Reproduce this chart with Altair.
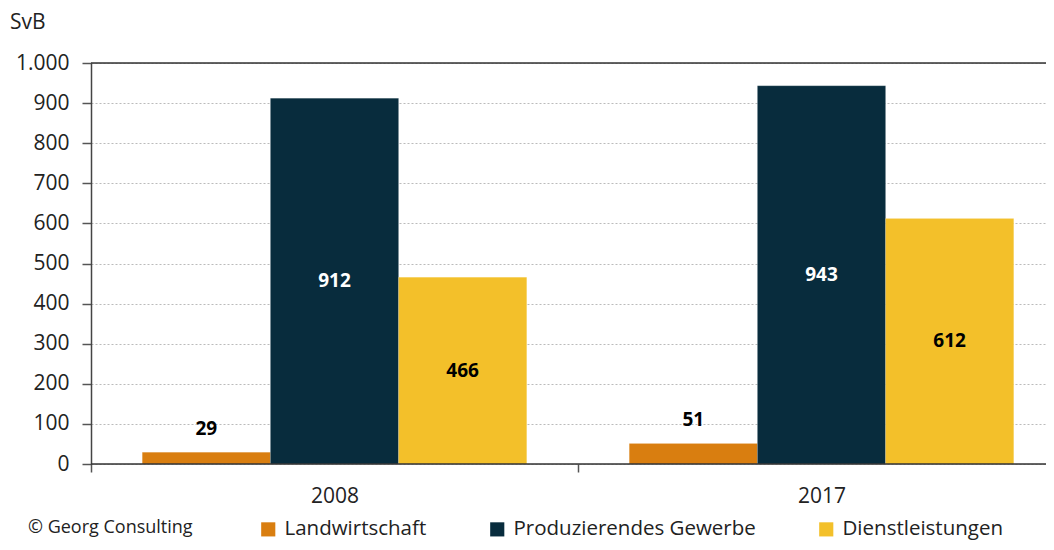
import altair as alt
import pandas as pd

years = ["2008", "2008", "2008", "2017", "2017", "2017"]
sectors = ["Landwirtschaft", "Produzierendes Gewerbe", "Dienstleistungen"] * 2
values = [29, 912, 466, 51, 943, 612]
sector_order = ["Landwirtschaft", "Produzierendes Gewerbe", "Dienstleistungen"]
sector_colors = ["#D97E10", "#082C3D", "#F3C02A"]
label_colors = ["black", "white", "black"]
y_ticks = [0, 100, 200, 300, 400, 500, 600, 700, 800, 900, 1000]

df = pd.DataFrame({"Jahr": years, "Sektor": sectors, "Wert": values})
df["lblcol"] = [label_colors[sector_order.index(s)] for s in df["Sektor"]]
df["mid"] = [v + 58 if s == "Landwirtschaft" else v / 2 for s, v in zip(df["Sektor"], df["Wert"])]

FONT = "Open Sans"

x_enc = alt.X("Jahr:N", title=None,
              scale=alt.Scale(range=[0, 974], paddingInner=0, paddingOuter=0),
              axis=alt.Axis(labelAngle=0, domain=False, ticks=True, tickBand="extent",
                            tickSize=8, tickColor="#555555", tickWidth=1.5,
                            labelFontSize=21, labelColor="#222222", labelFont=FONT,
                            labelPadding=13, grid=False))
xo_enc = alt.XOffset("Sektor:N", sort=sector_order,
                     scale=alt.Scale(paddingInner=0, paddingOuter=0.4))

bars = alt.Chart(df).mark_bar(stroke="white", strokeWidth=0.3, strokeOpacity=0.4).encode(
    x=x_enc,
    xOffset=xo_enc,
    y=alt.Y("Wert:Q", title=None,
            scale=alt.Scale(domain=[0, 1000], nice=False),
            axis=alt.Axis(values=y_ticks, labelExpr="datum.value == 1000 ? '1.000' : datum.label",
                          labelFontSize=21, labelColor="#222222", labelFont=FONT,
                          labelPadding=13, tickSize=9, tickColor="#555555", tickWidth=1.5,
                          domainColor="#444444", domainWidth=1.5,
                          grid=True, gridColor="#BBBBBB", gridDash=[2, 2], gridWidth=1)),
    color=alt.Color("Sektor:N", sort=sector_order,
                    scale=alt.Scale(domain=sector_order, range=sector_colors),
                    legend=alt.Legend(title=None, orient="none", legendX=167, legendY=456,
                                      direction="horizontal", symbolType="square",
                                      symbolSize=200, symbolStrokeWidth=0, padding=0,
                                      labelFontSize=20.5, labelFont=FONT, labelColor="#222222",
                                      columnPadding=60, labelOffset=6, labelLimit=400)),
)

labels = alt.Chart(df).mark_text(fontSize=19, fontWeight="bold", font=FONT).encode(
    x=alt.X("Jahr:N"),
    xOffset=alt.XOffset("Sektor:N", sort=sector_order),
    y=alt.Y("mid:Q"),
    color=alt.Color("lblcol:N", scale=None, legend=None),
    text=alt.Text("Wert:Q"),
)

base_rules = pd.DataFrame({"yv": [0, 1000]})
rules = alt.Chart(base_rules).mark_rule(color="#333333", strokeWidth=1.5).encode(
    y=alt.Y("yv:Q")
)

svb = alt.Chart(pd.DataFrame({"t": ["SvB"]})).mark_text(
    align="left", baseline="middle", fontSize=21, font=FONT, color="#222222"
).encode(x=alt.value(-81), y=alt.value(-40), text="t:N")

copy = alt.Chart(pd.DataFrame({"t": ["© Georg Consulting"]})).mark_text(
    align="left", baseline="middle", fontSize=18, font=FONT, color="#222222"
).encode(x=alt.value(-63), y=alt.value(465), text="t:N")

chart = alt.layer(bars, rules, labels, svb, copy).resolve_scale(
    color="independent"
).properties(
    width=955, height=401,
    autosize=alt.AutoSizeParams(type="none"),
    padding={"left": 83, "top": 55, "right": 0, "bottom": 78},
).configure_view(stroke=None).configure(background="white")

chart.save("out.html", embed_options={"renderer": "svg", "actions": False})
